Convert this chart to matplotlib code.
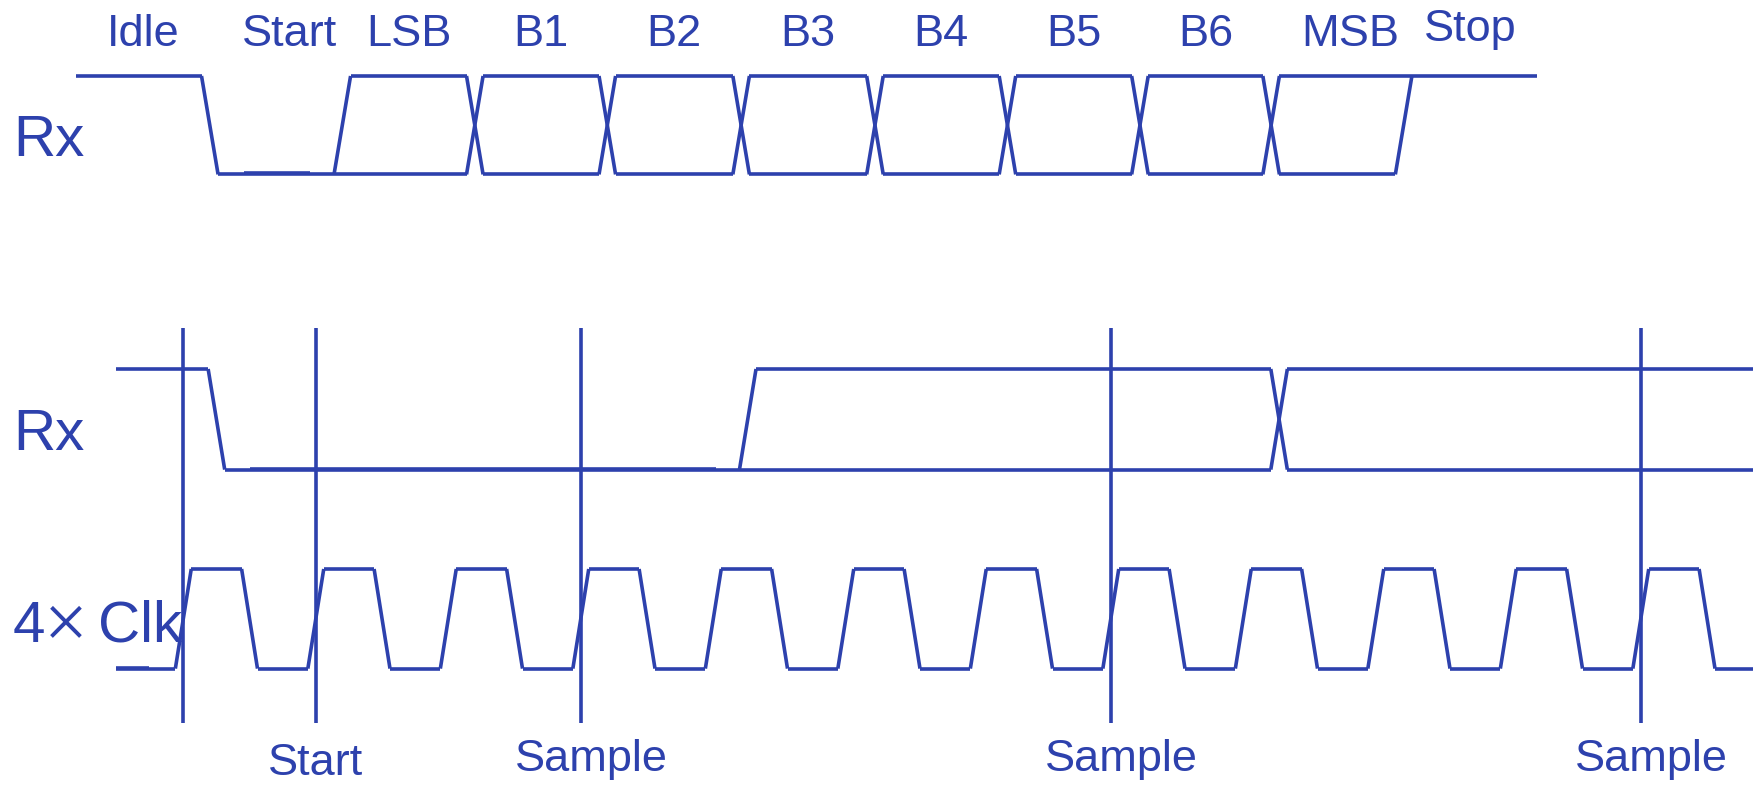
import matplotlib
matplotlib.use('Agg')
import matplotlib.pyplot as plt

# ---------------- data ----------------
# Top frame (time in bit/clock units; one unit = one period)
bit_names = ['Idle', 'Start', 'LSB', 'B1', 'B2', 'B3', 'B4', 'B5', 'B6', 'MSB', 'Stop']
bit_kind = ['1', '0', 'x', 'x', 'x', 'x', 'x', 'x', 'x', 'x', '1']
bit_edges = [-0.81, 0.20, 1.20, 2.20, 3.20, 4.21, 5.22, 6.22, 7.22, 8.21, 9.21, 10.22]

# Bottom: Rx seen with 4x clock
rx2_kind = ['1', '0', 'x', 'x']
rx2_edges = [-0.51, 0.25, 4.26, 8.27, 12.2]

# 4x clock edges
clk_rise = [0, 1, 2, 3, 4, 5, 6, 7, 8, 9, 10, 11]
clk_fall = [0.5, 1.5, 2.5, 3.5, 4.5, 5.5, 6.5, 7.5, 8.5, 9.5, 10.5, 11.5]
clk_span = [-0.51, 12.2]

# sampling markers
marker_t = [0, 1, 3, 7, 11]
marker_labels = ['', 'Start', 'Sample', 'Sample', 'Sample']

# ---------------- style / layout ----------------
BLUE = '#2d41ad'
LW = 2.6
W = 0.125  # transition width
FONT = 'Liberation Sans'

W_PX, H_PX = 1753, 785
ORIGIN_PX, PERIOD_PX = 183.3, 132.5

fig = plt.figure(figsize=(W_PX / 100, H_PX / 100), dpi=100)
ax = fig.add_axes([0, 0, 1, 1])
ax.set_xlim(-ORIGIN_PX / PERIOD_PX, (W_PX - ORIGIN_PX) / PERIOD_PX)
ax.set_ylim(H_PX, 0)
ax.axis('off')


def seg(x, y, lw=LW):
    ax.plot(x, y, color=BLUE, lw=lw, solid_capstyle='butt', solid_joinstyle='miter')


def draw_bus(kinds, edges, hi, lo, w=W):
    lv = {'1': [hi], '0': [lo], 'x': [hi, lo]}
    n = len(kinds)
    for i, k in enumerate(kinds):
        x0 = edges[i] + (w / 2 if i > 0 else 0)
        x1 = edges[i + 1] - (w / 2 if i < n - 1 else 0)
        for y in lv[k]:
            seg([x0, x1], [y, y])
    for i in range(1, n):
        a, b = kinds[i - 1], kinds[i]
        t = edges[i]
        for ya in lv[a]:
            for yb in lv[b]:
                if a == 'x' and b == 'x' and ya == yb:
                    continue
                seg([t - w / 2, t + w / 2], [ya, yb])


def big_label(y_base, txt):
    ax.text(-1.285, y_base, txt, color=BLUE, fontsize=42, family=FONT, ha='left', va='baseline')


# top Rx
TOP_HI, TOP_LO = 76, 174.4
draw_bus(bit_kind, bit_edges, TOP_HI, TOP_LO)
seg([0.456, 0.954], [TOP_LO - 1.2, TOP_LO - 1.2])
for i, name in enumerate(bit_names):
    xc = (bit_edges[i] + bit_edges[i + 1]) / 2
    if name in ('Start', 'MSB'):
        xc += 0.1
    yb = 41.5 if name == 'Stop' else 45.5
    ax.text(xc, yb, name, color=BLUE, fontsize=32.5, family=FONT, ha='center', va='baseline')
big_label(156.5, 'Rx')

# bottom Rx
RX_HI, RX_LO = 369, 469.6
draw_bus(rx2_kind, rx2_edges, RX_HI, RX_LO)
seg([0.503, 4.02], [RX_LO - 1.0, RX_LO - 1.0])
big_label(450.5, 'Rx')

# clock
CLK_HI, CLK_LO = 569, 668.6
clk_edges = [clk_span[0]] + sorted(clk_rise + clk_fall) + [clk_span[1]]
clk_kind = ['0' if i % 2 == 0 else '1' for i in range(len(clk_edges) - 1)]
draw_bus(clk_kind, clk_edges, CLK_HI, CLK_LO, w=0.12)
seg([clk_span[0], -0.26], [CLK_LO - 1.0, CLK_LO - 1.0])
big_label(642, '4')
ax.text(-0.885, 628, '\u00d7', color=BLUE, fontsize=56, family='Liberation Serif',
        ha='center', va='center')
ax.text(-0.644, 642, 'Clk', color=BLUE, fontsize=42, family=FONT, ha='left', va='baseline')

# markers
for t, lab in zip(marker_t, marker_labels):
    seg([t, t], [327.6, 723])
    if lab:
        dx = 0.08 if lab == 'Sample' else 0.0
        yy = 763.5 if lab == 'Start' else 760
        ax.text(t + dx, yy, lab, color=BLUE, fontsize=32.5, family=FONT, ha='center', va='center')

fig.savefig('out.png', dpi=100)
